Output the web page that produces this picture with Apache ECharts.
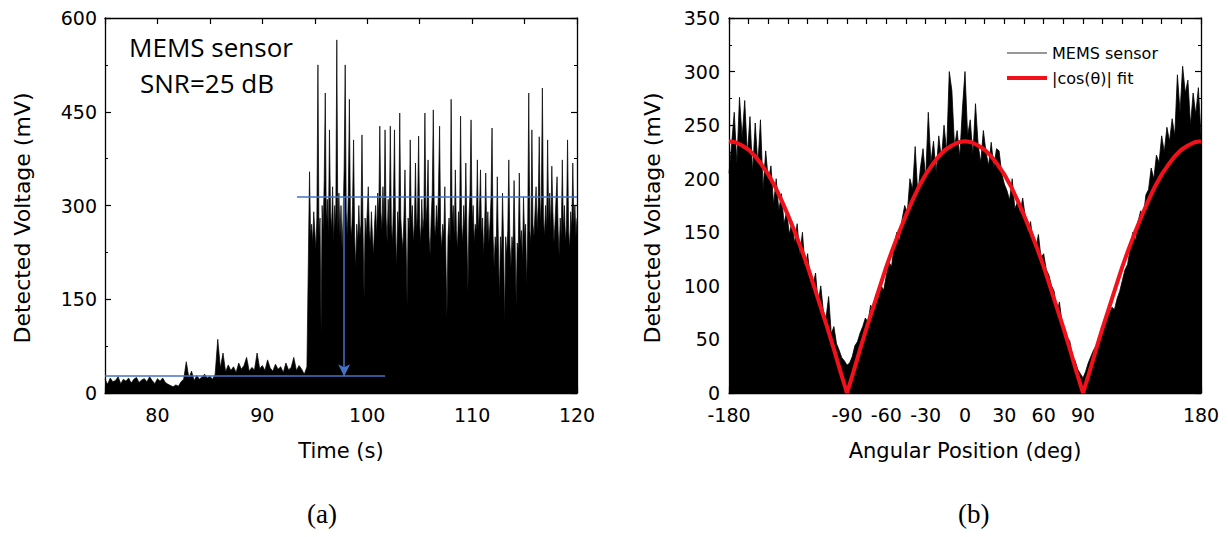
<!DOCTYPE html>
<html>
<head>
<meta charset="utf-8">
<script src="https://cdn.jsdelivr.net/npm/echarts@6/dist/echarts.min.js"></script>
<style>
  html, body { margin: 0; padding: 0; background: #fff; }
  #chart { width: 1228px; height: 537px; }
</style>
</head>
<body>
<div id="chart"></div>
<script>
// (a) detected voltage vs time, sampled before / after the jump
const preStart = 75, preStep = 0.25;
const preSignal = [
  22, 14, 24, 18, 20, 26, 15, 22,
  19, 24, 16, 22, 25, 17, 21, 23,
  18, 26, 20, 15, 23, 19, 24, 17,
  14, 12, 10, 13, 11, 18, 22, 50,
  24, 35, 20, 28, 22, 26, 30, 24,
  27, 22, 30, 86, 40, 64, 34, 45,
  36, 42, 33, 48, 38, 44, 57, 35,
  41, 37, 64, 39, 44, 36, 53, 40,
  35, 46, 38, 42, 33, 48, 37, 41,
  57, 36, 44, 38, 30, 42
];
const postStart = 94.5, postStep = 0.1;
const postSignal = [
  354, 250, 270, 240, 290, 260, 230, 280, 525, 250,
  280, 96, 300, 260, 340, 480, 270, 310, 250, 421,
  290, 260, 330, 240, 300, 270, 565, 260, 320, 250,
  300, 230, 280, 360, 525, 290, 250, 320, 470, 270,
  250, 300, 405, 250, 200, 270, 240, 300, 250, 270,
  413, 260, 150, 280, 250, 290, 330, 260, 240, 290,
  250, 220, 270, 300, 250, 320, 280, 427, 290, 260,
  330, 270, 421, 280, 240, 310, 260, 427, 270, 240,
  300, 421, 260, 200, 290, 260, 448, 280, 250, 230,
  280, 357, 250, 140, 280, 260, 405, 270, 300, 240,
  270, 368, 260, 290, 411, 270, 240, 310, 260, 280,
  448, 270, 300, 373, 250, 220, 280, 320, 453, 270,
  250, 300, 260, 330, 427, 260, 230, 270, 250, 330,
  220, 120, 250, 280, 240, 470, 270, 300, 250, 357,
  260, 230, 290, 260, 443, 270, 240, 300, 260, 368,
  260, 160, 280, 320, 437, 270, 300, 240, 270, 260,
  373, 260, 290, 357, 250, 280, 220, 270, 352, 250,
  290, 240, 270, 310, 424, 250, 200, 250, 230, 346,
  240, 150, 250, 220, 320, 240, 110, 250, 220, 260,
  373, 240, 200, 250, 230, 340, 240, 140, 240, 230,
  352, 240, 260, 210, 314, 250, 270, 170, 260, 480,
  260, 240, 421, 270, 250, 290, 330, 260, 300, 410,
  270, 310, 488, 280, 250, 300, 260, 405, 270, 320,
  260, 363, 290, 240, 270, 310, 346, 260, 220, 280,
  250, 373, 260, 300, 240, 270, 405, 260, 230, 290,
  260, 368, 270, 300, 250, 280
];
// detection range markers (mV, s)
const rangeLow = 27, rangeHigh = 314;
const lowLineEnd = 101.7, highLineStart = 93.3, arrowTime = 97.8;

// (b) detected voltage vs angle
const angleStart = -180, angleStep = 2;
const angularSignal = [
  205, 232, 262, 214, 276, 238, 273, 222, 258, 206,
  252, 212, 255, 190, 226, 198, 212, 176, 200, 170,
  186, 158, 170, 148, 160, 140, 158, 128, 150, 118,
  130, 105, 100, 112, 84, 100, 76, 70, 90, 55,
  62, 46, 40, 33, 30, 26, 28, 34, 44, 48,
  56, 62, 70, 66, 82, 78, 92, 88, 100, 96,
  110, 122, 118, 138, 150, 142, 162, 175, 168, 200,
  190, 230, 185, 210, 228, 200, 262, 215, 235, 205,
  240, 218, 250, 225, 300, 282, 230, 245, 220, 265,
  300, 240, 255, 222, 270, 232, 215, 245, 225, 212,
  234, 210, 228, 226, 205, 195, 189, 180, 200, 172,
  178, 168, 182, 164, 150, 160, 140, 135, 148, 126,
  130, 115, 110, 100, 95, 74, 85, 66, 60, 52,
  48, 34, 30, 22, 18, 14, 20, 28, 34, 40,
  44, 50, 56, 62, 68, 74, 80, 78, 88, 95,
  105, 115, 120, 135, 150, 142, 160, 170, 165, 185,
  190, 210, 200, 222, 215, 240, 225, 248, 235, 256,
  240, 297, 262, 305, 280, 292, 250, 280, 260, 285,
  240
];
const fitStart = -180, fitStep = 5;
const fitValues = [
  235, 234, 231, 227, 221, 213, 204, 193, 180, 166, 151, 135, 118, 99, 80, 61, 41, 20, 0,
  20, 41, 61, 80, 99, 118, 135, 151, 166, 180, 193, 204, 213, 221, 227, 231, 234, 235,
  234, 231, 227, 221, 213, 204, 193, 180, 166, 151, 135, 118, 99, 80, 61, 41, 20, 0,
  20, 41, 61, 80, 99, 118, 135, 151, 166, 180, 193, 204, 213, 221, 227, 231, 234, 235
];
const angleLabels = [-180, -90, -60, -30, 0, 30, 60, 90, 180];

const timeData = preSignal.map((v, i) => [+(preStart + i * preStep).toFixed(2), v])
  .concat(postSignal.map((v, i) => [+(postStart + i * postStep).toFixed(2), v]));
const angleData = angularSignal.map((v, i) => [angleStart + i * angleStep, v]);
const fitData = fitValues.map((v, i) => [fitStart + i * fitStep, v]);

const axisFont = { fontFamily: "DejaVu Sans", fontSize: 19, color: "#000" };
const nameFont = { fontFamily: "DejaVu Sans", fontSize: 21, color: "#000" };
const lineSt = { show: true, onZero: false, lineStyle: { color: "#000", width: 1.3 } };
const tickSt = { show: true, inside: true, length: 6, lineStyle: { color: "#000", width: 1.2 } };
const minorSt = { show: true, splitNumber: 2, length: 3, lineStyle: { color: "#000", width: 1 } };

function boxAxis(pos, grid, extra) {
  return Object.assign({
    type: "value", gridIndex: grid, position: pos,
    axisLine: lineSt, axisTick: tickSt, axisLabel: { show: false },
    splitLine: { show: false }
  }, extra);
}

const chart = echarts.init(document.getElementById("chart"), null, { renderer: "svg" });

chart.setOption({
  animation: false,
  backgroundColor: "#fff",
  grid: [
    { left: 105, right: 651, top: 18, bottom: 144 },
    { left: 729, right: 27, top: 18, bottom: 144 }
  ],
  xAxis: [
    boxAxis("bottom", 0, {
      min: 75, max: 120, interval: 5,
      name: "Time (s)", nameLocation: "middle", nameGap: 47, nameTextStyle: nameFont,
      axisLabel: Object.assign({ margin: 12, formatter: v => (v % 10 === 0 ? String(v) : "") }, axisFont)
    }),
    boxAxis("top", 0, { min: 75, max: 120, interval: 5 }),
    boxAxis("bottom", 1, {
      min: -180, max: 180, interval: 15,
      name: "Angular Position (deg)", nameLocation: "middle", nameGap: 47, nameTextStyle: nameFont,
      axisLabel: Object.assign({ margin: 12, formatter: v => (angleLabels.includes(v) ? String(v) : "") }, axisFont)
    }),
    boxAxis("top", 1, { min: -180, max: 180, interval: 15 })
  ],
  yAxis: [
    boxAxis("left", 0, {
      min: 0, max: 600, interval: 150, minorTick: minorSt,
      axisLabel: Object.assign({ margin: 8 }, axisFont)
    }),
    boxAxis("right", 0, { min: 0, max: 600, interval: 150, minorTick: minorSt }),
    boxAxis("left", 1, {
      min: 0, max: 350, interval: 50, minorTick: minorSt,
      axisLabel: Object.assign({ margin: 9 }, axisFont)
    }),
    boxAxis("right", 1, { min: 0, max: 350, interval: 50, minorTick: minorSt })
  ],
  legend: {
    orient: "vertical", left: 1002, top: 40, itemWidth: 40, itemHeight: 14, itemGap: 9,
    symbolKeepAspect: true,
    textStyle: { fontFamily: "DejaVu Sans", fontSize: 16, color: "#000" },
    data: [
      { name: "MEMS sensor", icon: "path://M0,0H40V1H0Z", itemStyle: { color: "#333" } },
      { name: "|cos(θ)| fit", icon: "path://M0,0H40V4H0Z", itemStyle: { color: "#f2111a" } }
    ]
  },
  series: [
    {
      type: "line", xAxisIndex: 0, yAxisIndex: 0, data: timeData,
      symbol: "none", silent: true,
      lineStyle: { color: "#000", width: 0.7 },
      areaStyle: { color: "#000", opacity: 1 },
      markLine: {
        silent: true, symbol: ["none", "none"], label: { show: false },
        lineStyle: { color: "#4472c4", width: 1.5, type: "solid" },
        data: [
          [{ coord: [preStart, rangeLow] }, { coord: [lowLineEnd, rangeLow] }],
          [{ coord: [highLineStart, rangeHigh] }, { coord: [120, rangeHigh] }],
          [{ coord: [arrowTime, rangeHigh] },
           { coord: [arrowTime, rangeLow], symbol: "arrow", symbolSize: [9, 12] }]
        ]
      }
    },
    {
      name: "MEMS sensor", type: "line", xAxisIndex: 2, yAxisIndex: 2, data: angleData,
      symbol: "none", silent: true, itemStyle: { color: "#000" },
      lineStyle: { color: "#000", width: 0.8 },
      areaStyle: { color: "#000", opacity: 1 }
    },
    {
      name: "|cos(θ)| fit", type: "line", xAxisIndex: 2, yAxisIndex: 2, data: fitData,
      symbol: "none", silent: true, z: 5, itemStyle: { color: "#f2111a" },
      lineStyle: { color: "#f2111a", width: 4 }
    }
  ],
  graphic: [
    { type: "text", x: 211, y: 34,
      style: { text: "MEMS sensor", font: "26px 'Open Sans'",
               align: "center", verticalAlign: "top", fill: "#000" } },
    { type: "text", x: 207, y: 70,
      style: { text: "SNR=25 dB", font: "26px 'Open Sans'",
               align: "center", verticalAlign: "top", fill: "#000" } },
    { type: "text", left: 355, top: 300,
      style: { text: "Detection Range", font: "27px 'Open Sans'", fill: "#fff" } },
    { type: "text", x: 22, y: 218, rotation: Math.PI / 2,
      style: { text: "Detected Voltage (mV)", font: "22px 'DejaVu Sans'", align: "center",
               verticalAlign: "middle", fill: "#000" } },
    { type: "text", x: 652, y: 218, rotation: Math.PI / 2,
      style: { text: "Detected Voltage (mV)", font: "22px 'DejaVu Sans'", align: "center",
               verticalAlign: "middle", fill: "#000" } },
    { type: "text", left: 307, top: 500, style: { text: "(a)", font: "27px 'Liberation Serif'", fill: "#000" } },
    { type: "text", left: 958, top: 500, style: { text: "(b)", font: "27px 'Liberation Serif'", fill: "#000" } }
  ]
});
</script>
</body>
</html>
